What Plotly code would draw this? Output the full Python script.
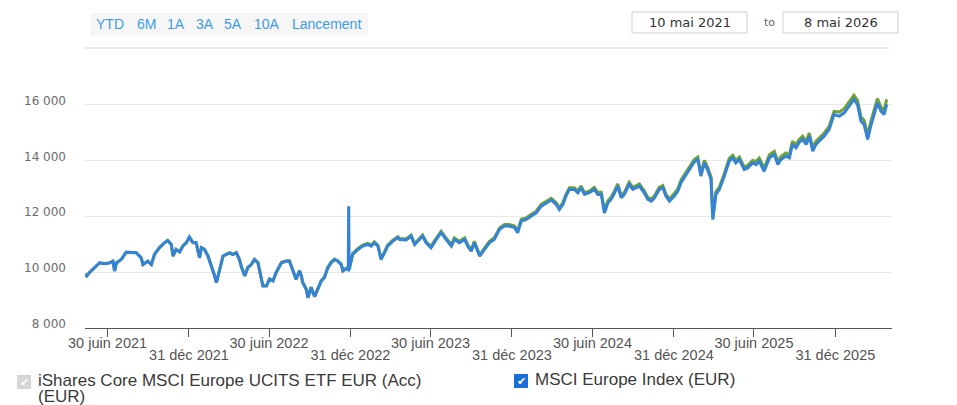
import plotly.graph_objects as go

# ---------------- data ----------------
dates = [
    "2021-05-10", "2021-05-14", "2021-05-20", "2021-06-01", "2021-06-12", "2021-06-23", "2021-07-05",
    "2021-07-12", "2021-07-16", "2021-07-20", "2021-07-31", "2021-08-11", "2021-08-23", "2021-09-03",
    "2021-09-14", "2021-09-18", "2021-09-29", "2021-10-07", "2021-10-14", "2021-10-25", "2021-11-06",
    "2021-11-13", "2021-11-21", "2021-11-25", "2021-12-02", "2021-12-10", "2021-12-17", "2021-12-25",
    "2022-01-01", "2022-01-09", "2022-01-16", "2022-01-20", "2022-01-24", "2022-01-28", "2022-02-04",
    "2022-02-12", "2022-02-19", "2022-02-27", "2022-03-03", "2022-03-10", "2022-03-18", "2022-03-25",
    "2022-04-02", "2022-04-09", "2022-04-17", "2022-04-24", "2022-04-28", "2022-05-06", "2022-05-13",
    "2022-05-21", "2022-05-28", "2022-06-05", "2022-06-12", "2022-06-16", "2022-06-24",
    "2022-07-01", "2022-07-09", "2022-07-16", "2022-07-28", "2022-08-08", "2022-08-15", "2022-08-23",
    "2022-08-30", "2022-09-07", "2022-09-11", "2022-09-14", "2022-09-22", "2022-09-26", "2022-10-03",
    "2022-10-11", "2022-10-18", "2022-10-26", "2022-11-02", "2022-11-10", "2022-11-17", "2022-11-25",
    "2022-12-02", "2022-12-10", "2022-12-14", "2022-12-21", "2022-12-26", "2022-12-27", "2022-12-28",
    "2023-01-05", "2023-01-17", "2023-01-28", "2023-02-08", "2023-02-16", "2023-02-23", "2023-03-03",
    "2023-03-07", "2023-03-10", "2023-03-18", "2023-03-25", "2023-04-06", "2023-04-17", "2023-04-21",
    "2023-05-06", "2023-05-17", "2023-05-25", "2023-06-05", "2023-06-12", "2023-06-20",
    "2023-07-01", "2023-07-13", "2023-07-24", "2023-08-04", "2023-08-16", "2023-08-23", "2023-09-03",
    "2023-09-15", "2023-09-22", "2023-09-30", "2023-10-07", "2023-10-19", "2023-10-30", "2023-11-10",
    "2023-11-21", "2023-12-03", "2023-12-14", "2023-12-25",
    "2024-01-06", "2024-01-13", "2024-01-21", "2024-02-01", "2024-02-12", "2024-02-24", "2024-03-06",
    "2024-03-17", "2024-03-29", "2024-04-09", "2024-04-16", "2024-04-24", "2024-05-01", "2024-05-09",
    "2024-05-20", "2024-05-28", "2024-06-04", "2024-06-12", "2024-06-23",
    "2024-07-04", "2024-07-12", "2024-07-20", "2024-07-27", "2024-08-04", "2024-08-11", "2024-08-19",
    "2024-08-26", "2024-09-03", "2024-09-10", "2024-09-21", "2024-09-29", "2024-10-07", "2024-10-14",
    "2024-10-25", "2024-11-02", "2024-11-10", "2024-11-17", "2024-11-28", "2024-12-06", "2024-12-13",
    "2024-12-21",
    "2025-01-01", "2025-01-09", "2025-01-16", "2025-01-28", "2025-02-08", "2025-02-15", "2025-02-23",
    "2025-03-02", "2025-03-10", "2025-03-17", "2025-03-25", "2025-03-29", "2025-04-05", "2025-04-13",
    "2025-04-24", "2025-05-05", "2025-05-13", "2025-05-20", "2025-05-28", "2025-06-08", "2025-06-16",
    "2025-06-27",
    "2025-07-05", "2025-07-12", "2025-07-23", "2025-08-04", "2025-08-15", "2025-08-23", "2025-08-30",
    "2025-09-10", "2025-09-18", "2025-09-25", "2025-10-03", "2025-10-10", "2025-10-18", "2025-10-26",
    "2025-11-02", "2025-11-10", "2025-11-17", "2025-11-25", "2025-12-06", "2025-12-17", "2025-12-28",
    "2026-01-09", "2026-01-20", "2026-01-31", "2026-02-11", "2026-02-19", "2026-02-27", "2026-03-06",
    "2026-03-14", "2026-03-21", "2026-03-29", "2026-04-05", "2026-04-13", "2026-04-20", "2026-04-26",
]

msci_europe_index = [
    9920, 9860, 9980, 10160, 10330, 10300, 10330,
    10390, 10040, 10330, 10450, 10710, 10690, 10690,
    10510, 10270, 10390, 10270, 10630, 10870, 11050,
    11130, 10990, 10570, 10810, 10720, 10930, 11050,
    11250, 11050, 11050, 10810, 10510, 10870, 10810,
    10570, 10270, 9860, 9620, 10100, 10570, 10630,
    10690, 10630, 10690, 10450, 10210, 9860, 10160,
    10270, 10450, 10330, 9860, 9500, 9500,
    9740, 9680, 9980, 10330, 10390, 10390, 10040,
    9740, 10040, 9860, 9620, 9380, 9080, 9450,
    9120, 9380, 9680, 9800, 10160, 10330, 10450,
    10390, 10270, 10040, 10120, 10080, 12360, 10090,
    10630, 10810, 10930, 10990, 10930, 11050, 10930,
    10690, 10450, 10690, 10930, 11110, 11230, 11170,
    11150, 11290, 10990, 11170, 11290, 11050,
    10870, 11170, 11410, 11170, 10930, 11170, 11050,
    11170, 10930, 10750, 11050, 10570, 10810, 11050,
    11170, 11530, 11650, 11650,
    11590, 11410, 11830, 11880, 12000, 12120, 12360,
    12480, 12580, 12420, 12240, 12420, 12720, 12960,
    12960, 12840, 13020, 12780, 12840,
    12960, 12780, 12780, 12120, 12480, 12600, 12840,
    13080, 12660, 12780, 13140, 12960, 13020, 13080,
    12840, 12600, 12540, 12660, 12960, 13020, 12720,
    12540,
    12720, 12900, 13200, 13500, 13790, 13940, 14030,
    13440, 13910, 13670, 13320, 11880, 12780, 12960,
    13440, 13970, 14090, 13910, 14030, 13670, 13730,
    13910,
    13850, 13970, 13610, 14090, 14210, 13850, 14030,
    14150, 14090, 14570, 14450, 14630, 14750, 14570,
    14870, 14330, 14570, 14690, 14870, 15110, 15640,
    15580, 15700, 15940, 16180, 16000, 15400, 15280,
    14750, 15230, 15640, 16060, 15760, 15640, 16000,
]

ishares_etf = [
    9925, 9865, 9985, 10165, 10335, 10305, 10335,
    10395, 10045, 10335, 10455, 10715, 10695, 10695,
    10515, 10275, 10395, 10275, 10635, 10875, 11055,
    11135, 10995, 10575, 10815, 10725, 10935, 11055,
    11260, 11060, 11060, 10820, 10520, 10880, 10820,
    10580, 10280, 9870, 9630, 10110, 10580, 10640,
    10700, 10640, 10700, 10460, 10220, 9870, 10170,
    10280, 10460, 10340, 9870, 9510, 9510,
    9760, 9700, 10000, 10350, 10410, 10410, 10060,
    9760, 10060, 9880, 9640, 9400, 9100, 9470,
    9140, 9400, 9700, 9820, 10180, 10350, 10470,
    10410, 10290, 10060, 10140, 10100, 10110, 10110,
    10665, 10845, 10965, 11025, 10965, 11085, 10965,
    10725, 10485, 10725, 10965, 11145, 11265, 11205,
    11185, 11325, 11025, 11205, 11325, 11085,
    10920, 11220, 11460, 11220, 10980, 11220, 11100,
    11220, 10980, 10800, 11100, 10620, 10860, 11100,
    11220, 11580, 11700, 11700,
    11650, 11470, 11890, 11940, 12060, 12180, 12420,
    12540, 12640, 12480, 12300, 12480, 12780, 13020,
    13020, 12900, 13080, 12840, 12900,
    13035, 12855, 12855, 12195, 12555, 12675, 12915,
    13155, 12735, 12855, 13215, 13035, 13095, 13155,
    12915, 12675, 12615, 12735, 13035, 13095, 12795,
    12615,
    12810, 12990, 13290, 13590, 13880, 14030, 14120,
    13530, 14000, 13760, 13410, 11970, 12870, 13050,
    13530, 14060, 14180, 14000, 14120, 13760, 13820,
    14000,
    13960, 14080, 13720, 14200, 14320, 13960, 14140,
    14260, 14200, 14680, 14560, 14740, 14860, 14680,
    14980, 14440, 14680, 14800, 14980, 15220, 15750,
    15730, 15850, 16090, 16330, 16150, 15550, 15430,
    14900, 15380, 15790, 16210, 15910, 15790, 16180,
]

series_names = ["iShares Core MSCI Europe UCITS ETF EUR (Acc) (EUR)", "MSCI Europe Index (EUR)"]
x_tick_dates = ["2021-06-30", "2021-12-31", "2022-06-30", "2022-12-31", "2023-06-30",
                "2023-12-31", "2024-06-30", "2024-12-31", "2025-06-30", "2025-12-31"]
x_tick_labels = ["30 juin 2021", "31 déc 2021", "30 juin 2022", "31 déc 2022", "30 juin 2023",
                 "31 déc 2023", "30 juin 2024", "31 déc 2024", "30 juin 2025", "31 déc 2025"]
y_tick_values = [8000, 10000, 12000, 14000, 16000]
range_buttons = ["YTD", "6M", "1A", "3A", "5A", "10A", "Lancement"]
range_start_label = "10 mai 2021"
range_end_label = "8 mai 2026"
x_range = ["2021-05-10", "2026-05-08"]
y_range = [8000, 17735]

# ---------------- layout helpers ----------------
W, H = 957, 405
ML, MR, MT, MB = 85, 65, 56, 77
PW, PH = W - ML - MR, H - MT - MB


def px(x):
    return (x - ML) / PW


def py(y):
    return (H - MB - y) / PH


BLUE = "#3483d6"
GREEN = "#6ea232"
TEXTFONT = "Liberation Sans, Arial, sans-serif"

fig = go.Figure()
# ETF on the base x axis, index on the overlay axis (same range) so it is drawn on top
fig.add_trace(go.Scatter(x=dates, y=ishares_etf, mode="lines", name=series_names[0],
                         line=dict(color=GREEN, width=3), xaxis="x", yaxis="y"))
fig.add_trace(go.Scatter(x=dates, y=msci_europe_index, mode="lines", name=series_names[1],
                         line=dict(color=BLUE, width=3), xaxis="x2", yaxis="y"))

# first row: "30 juin" labels on the main axis; second row: "31 déc" labels on the overlay axis
row1_text = [t if i % 2 == 0 else "" for i, t in enumerate(x_tick_labels)]
row2_vals = [d for i, d in enumerate(x_tick_dates) if i % 2 == 1]
row2_text = [t for i, t in enumerate(x_tick_labels) if i % 2 == 1]

shapes = []
annotations = []

# range selector bar
shapes.append(dict(type="rect", xref="paper", yref="paper", x0=px(90), x1=px(368), y0=py(13), y1=py(36),
                   fillcolor="#f6f6f6", line=dict(width=0), layer="below"))
btn_centers = [110, 146, 176, 205, 233, 267, 326]
for label, cx in zip(range_buttons, btn_centers):
    annotations.append(dict(text=label, xref="paper", yref="paper", x=px(cx), y=py(24),
                            xanchor="center", yanchor="middle", showarrow=False,
                            font=dict(family="Liberation Sans, Arial", size=14, color="#3d9be9")))
# rule under toolbar
shapes.append(dict(type="line", xref="paper", yref="paper", x0=px(84), x1=px(889), y0=py(48), y1=py(48),
                   line=dict(color="#ececec", width=2)))
# date boxes
for (x0, x1, label) in [(632, 747, range_start_label), (783, 898, range_end_label)]:
    shapes.append(dict(type="rect", xref="paper", yref="paper", x0=px(x0), x1=px(x1), y0=py(12), y1=py(33),
                       fillcolor="white", line=dict(color="#cfcfcf", width=1)))
    annotations.append(dict(text=label, xref="paper", yref="paper", x=px((x0 + x1) / 2), y=py(22.5),
                            xanchor="center", yanchor="middle", showarrow=False,
                            font=dict(family="DejaVu Sans, Verdana", size=13, color="#333333")))
annotations.append(dict(text="to", xref="paper", yref="paper", x=px(769), y=py(22.5),
                        xanchor="center", yanchor="middle", showarrow=False,
                        font=dict(family="DejaVu Sans, Verdana", size=11, color="#666666")))

# legend with checkboxes
legend_items = [
    (17, 375, "#d6d6d6", ["iShares Core MSCI Europe UCITS ETF EUR (Acc)", "(EUR)"]),
    (514, 374, "#1c6fd6", ["MSCI Europe Index (EUR)"]),
]
for (bx, by, col, lines) in legend_items:
    shapes.append(dict(type="rect", xref="paper", yref="paper", x0=px(bx), x1=px(bx + 14),
                       y0=py(by), y1=py(by + 14), fillcolor=col, line=dict(width=0)))
    annotations.append(dict(text="✔", xref="paper", yref="paper", x=px(bx + 7), y=py(by + 7.5),
                            xanchor="center", yanchor="middle", showarrow=False,
                            font=dict(family="DejaVu Sans", size=11, color="white")))
    for k, ln in enumerate(lines):
        annotations.append(dict(text=ln, xref="paper", yref="paper", x=px(bx + 20),
                                y=py(by + 5.5 + 16 * k),
                                xanchor="left", yanchor="middle", showarrow=False, borderpad=0,
                                font=dict(family=TEXTFONT, size=17, color="#3a3a3a")))

tickfont = dict(family=TEXTFONT, size=14.5, color="#555555")
fig.update_layout(
    width=W, height=H,
    margin=dict(l=ML, r=MR, t=MT, b=MB, pad=0, autoexpand=False),
    paper_bgcolor="white", plot_bgcolor="white",
    showlegend=False,
    separators=", ",
    shapes=shapes,
    annotations=annotations,
    xaxis=dict(range=x_range, type="date", showgrid=False, zeroline=False, automargin=False,
               showline=True, linecolor="#555555", linewidth=1,
               ticks="outside", ticklen=8, tickwidth=1, tickcolor="#555555",
               tickvals=x_tick_dates, ticktext=row1_text, tickangle=0, ticklabelstandoff=-6,
               tickfont=tickfont),
    xaxis2=dict(range=x_range, type="date", overlaying="x", anchor="y", side="bottom",
                showgrid=False, zeroline=False, automargin=False, showline=False,
                ticks="", tickvals=row2_vals, ticktext=row2_text, tickangle=0, ticklabelstandoff=16,
                tickfont=tickfont),
    yaxis=dict(range=y_range, tickvals=y_tick_values, tickformat=",d", automargin=False,
               showgrid=True, gridcolor="#e8e8e8", gridwidth=1, zeroline=False, showline=False,
               ticks="", ticklabelstandoff=18, ticklabelshift=-4,
               tickfont=dict(family="DejaVu Sans, Verdana", size=12, color="#6b6b6b")),
)

fig.write_html("out.html", config={"displayModeBar": False},
               post_script="document.body.style.margin='0px';")
